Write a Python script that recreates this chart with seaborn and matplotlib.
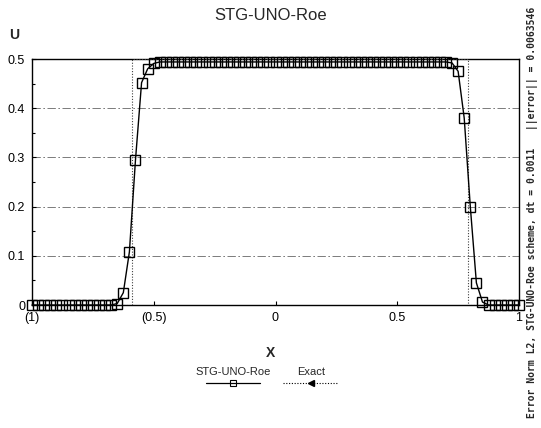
import numpy as np
import pandas as pd
import matplotlib
matplotlib.use("Agg")
import matplotlib.pyplot as plt
from matplotlib.lines import Line2D
from matplotlib.ticker import MultipleLocator
import seaborn as sns

# ---------------- data ----------------
X_GRID = [-1.000, -0.975, -0.950, -0.925, -0.900, -0.875, -0.850, -0.825, -0.800, -0.775,
          -0.750, -0.725, -0.700, -0.675, -0.650, -0.625, -0.600, -0.575, -0.550, -0.525,
          -0.500, -0.475, -0.450, -0.425, -0.400, -0.375, -0.350, -0.325, -0.300, -0.275,
          -0.250, -0.225, -0.200, -0.175, -0.150, -0.125, -0.100, -0.075, -0.050, -0.025,
          0.000, 0.025, 0.050, 0.075, 0.100, 0.125, 0.150, 0.175, 0.200, 0.225,
          0.250, 0.275, 0.300, 0.325, 0.350, 0.375, 0.400, 0.425, 0.450, 0.475,
          0.500, 0.525, 0.550, 0.575, 0.600, 0.625, 0.650, 0.675, 0.700, 0.725,
          0.750, 0.775, 0.800, 0.825, 0.850, 0.875, 0.900, 0.925, 0.950, 0.975,
          1.000]

U_STG = [0.0, 0.0, 0.0, 0.0, 0.0, 0.0, 0.0, 0.0, 0.0, 0.0,
         0.0, 0.0, 0.0, 0.0, 0.003, 0.025, 0.108, 0.295, 0.452, 0.480,
         0.491, 0.494, 0.494, 0.494, 0.494, 0.494, 0.494, 0.494, 0.494, 0.494,
         0.494, 0.494, 0.494, 0.494, 0.494, 0.494, 0.494, 0.494, 0.494, 0.494,
         0.494, 0.494, 0.494, 0.494, 0.494, 0.494, 0.494, 0.494, 0.494, 0.494,
         0.494, 0.494, 0.494, 0.494, 0.494, 0.494, 0.494, 0.494, 0.494, 0.494,
         0.494, 0.494, 0.494, 0.494, 0.494, 0.494, 0.494, 0.494, 0.494, 0.492,
         0.475, 0.380, 0.200, 0.045, 0.006, 0.0, 0.0, 0.0, 0.0, 0.0,
         0.0]

X_EXACT = [-1.0, -0.59, -0.59, 0.79, 0.79, 1.0]
U_EXACT = [0.0, 0.0, 0.5, 0.5, 0.0, 0.0]

X_TICKS = [-1.0, -0.5, 0.0, 0.5, 1.0]
X_TICK_LABELS = ["(1)", "(0.5)", "0", "0.5", "1"]
Y_TICKS = [0.0, 0.1, 0.2, 0.3, 0.4, 0.5]
Y_TICK_LABELS = ["0", "0.1", "0.2", "0.3", "0.4", "0.5"]

TITLE = "STG-UNO-Roe"
SIDE_NOTE = "Error Norm L2, STG-UNO-Roe scheme, dt = 0.0011   ||error|| = 0.0063546"

# ---------------- plot ----------------
sns.set_theme(style="white")
plt.rcParams['font.family'] = ['Liberation Sans', 'DejaVu Sans']

fig = plt.figure(figsize=(5.41, 4.28), dpi=100)
ax = fig.add_axes([32/541, 1-305/428, 487/541, 246/428])

df_stg = pd.DataFrame({"x": X_GRID, "u": U_STG})
df_ex = pd.DataFrame({"x": X_EXACT, "u": U_EXACT})

sns.lineplot(data=df_ex, x="x", y="u", estimator=None, sort=False, ax=ax,
             color="0.25", linestyle=(0, (1, 1.5)), linewidth=0.8, zorder=3)
sns.lineplot(data=df_stg, x="x", y="u", estimator=None, sort=False, ax=ax,
             color="black", linewidth=1.0, marker="s", markersize=6.5,
             markerfacecolor="none", markeredgecolor="black", markeredgewidth=1.0,
             clip_on=False, zorder=4)

ax.set_xlim(-1, 1)
ax.set_ylim(0, 0.5)
ax.set_xticks(X_TICKS)
ax.set_xticklabels(X_TICK_LABELS)
ax.set_yticks(Y_TICKS)
ax.set_yticklabels(Y_TICK_LABELS)
ax.yaxis.set_minor_locator(MultipleLocator(0.05))
ax.tick_params(axis="both", which="major", direction="in", length=3, width=0.8,
               color="black", labelsize=9, pad=5, labelcolor="black")
ax.tick_params(axis="y", which="minor", direction="in", length=2.5, width=0.8,
               color="black", left=True)
ax.tick_params(axis="x", bottom=True, top=False)
ax.tick_params(axis="y", left=True, right=False)

ax.yaxis.grid(True, linestyle=(0, (10, 3, 2, 3)), color="0.4", linewidth=0.6)
ax.xaxis.grid(False)
for s in ax.spines.values():
    s.set_visible(True)
    s.set_color("black")
    s.set_linewidth(1.0)

ax.set_xlabel("X", fontsize=10, fontweight="bold")
ax.xaxis.set_label_coords(0.49, -0.165)
ax.set_ylabel("U", fontsize=10, fontweight="bold", rotation=0)
ax.yaxis.set_label_coords(-0.037, 1.07)

fig.text(271/541, 1-15/428, TITLE, ha="center", va="center", fontsize=12)

# legend (labels above samples)
fig.text(233/541, 1-372/428, "STG-UNO-Roe", ha="center", va="center", fontsize=8)
fig.text(311/541, 1-372/428, "Exact", ha="center", va="center", fontsize=8)
ly = 1-383/428
fig.add_artist(Line2D([206/541, 260/541], [ly, ly], transform=fig.transFigure,
                      color="black", linewidth=0.9))
fig.add_artist(Line2D([233/541], [ly], transform=fig.transFigure, marker="s",
                      markersize=5, markerfacecolor="none", markeredgecolor="black",
                      markeredgewidth=0.8, linestyle="none"))
fig.add_artist(Line2D([283/541, 338/541], [ly, ly], transform=fig.transFigure,
                      color="black", linewidth=0.8, linestyle=(0, (1, 1.5))))
fig.add_artist(Line2D([311/541], [ly], transform=fig.transFigure, marker="<",
                      markersize=4, color="black", linestyle="none"))

fig.text(533/541, 1-212/428, SIDE_NOTE, rotation=90, ha="center", va="center",
         fontsize=7, family="DejaVu Sans Mono", fontweight="bold")

fig.savefig("out.png", dpi=100)
